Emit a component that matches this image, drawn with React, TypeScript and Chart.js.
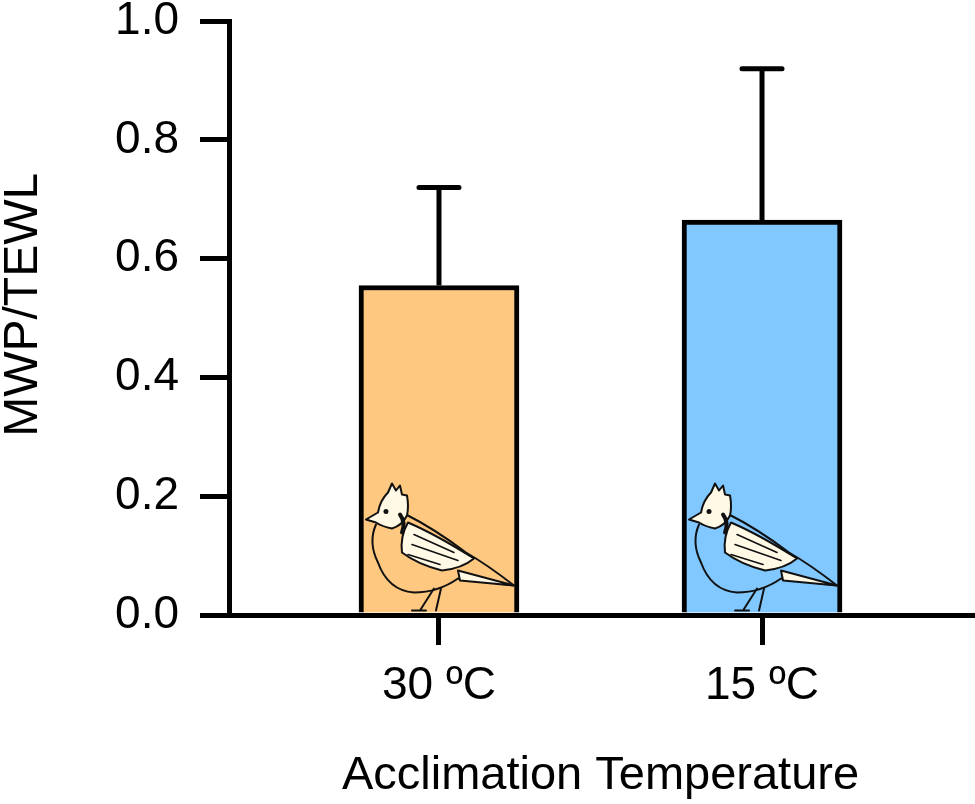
import { Chart, registerables } from "chart.js"
import { useEffect, useRef } from "react"

Chart.register(...registerables)

const categories = ["30 ºC", "15 ºC"]
const positions = [1, 2]
const means = [0.555, 0.665]
const upperErrors = [0.72, 0.92]
const barColors = ["#FFC881", "#80C8FF"]
const yTicks = [0, 0.2, 0.4, 0.6, 0.8, 1.0]

const FONT = "'Liberation Sans', Arial, sans-serif"

// rough bird sketch, drawn in every bar (offsets from bar's bottom-left corner)
const drawBird = (ctx: any, left: number, bottom: number) => {
    ctx.save()
    ctx.translate(left, bottom)
    ctx.lineJoin = "round"
    ctx.lineCap = "round"
    ctx.strokeStyle = "#111"
    ctx.fillStyle = "#FFF9E6"
    ctx.lineWidth = 2

    // body outline
    ctx.beginPath()
    ctx.moveTo(14, -88)
    ctx.quadraticCurveTo(6, -70, 16, -50)
    ctx.quadraticCurveTo(26, -22, 52, -20)
    ctx.quadraticCurveTo(76, -20, 96, -34)
    ctx.lineTo(152, -27)
    ctx.quadraticCurveTo(125, -48, 104, -60)
    ctx.quadraticCurveTo(72, -84, 44, -98)
    ctx.stroke()

    // tail
    ctx.beginPath()
    ctx.moveTo(96, -42)
    ctx.lineTo(152, -27)
    ctx.lineTo(98, -32)
    ctx.closePath()
    ctx.fill()
    ctx.stroke()

    // wing
    ctx.beginPath()
    ctx.moveTo(46, -90)
    ctx.quadraticCurveTo(74, -78, 112, -54)
    ctx.quadraticCurveTo(100, -44, 80, -42)
    ctx.quadraticCurveTo(56, -48, 40, -60)
    ctx.quadraticCurveTo(38, -76, 46, -90)
    ctx.closePath()
    ctx.fill()
    ctx.stroke()
    ctx.lineWidth = 1.6
    ctx.beginPath()
    ctx.moveTo(52, -78); ctx.lineTo(92, -60)
    ctx.moveTo(50, -68); ctx.lineTo(96, -52)
    ctx.moveTo(46, -58); ctx.lineTo(78, -48)
    ctx.stroke()

    // head with crest
    ctx.lineWidth = 2
    ctx.beginPath()
    ctx.moveTo(4, -93)
    ctx.lineTo(16, -100)
    ctx.quadraticCurveTo(18, -112, 26, -120)
    ctx.lineTo(30, -129)
    ctx.lineTo(34, -122)
    ctx.lineTo(38, -127)
    ctx.lineTo(40, -118)
    ctx.lineTo(45, -117)
    ctx.quadraticCurveTo(47, -106, 45, -97)
    ctx.quadraticCurveTo(40, -87, 30, -84)
    ctx.quadraticCurveTo(20, -86, 14, -90)
    ctx.closePath()
    ctx.fill()
    ctx.stroke()

    // eye and dark throat band
    ctx.fillStyle = "#111"
    ctx.beginPath()
    ctx.arc(24, -101, 2.5, 0, Math.PI * 2)
    ctx.fill()
    ctx.lineWidth = 4
    ctx.beginPath()
    ctx.moveTo(38, -98)
    ctx.quadraticCurveTo(44, -90, 40, -80)
    ctx.stroke()

    // legs
    ctx.lineWidth = 2
    ctx.beginPath()
    ctx.moveTo(72, -24); ctx.lineTo(58, -2)
    ctx.moveTo(79, -24); ctx.lineTo(74, -2)
    ctx.moveTo(50, -2); ctx.lineTo(64, -2)
    ctx.stroke()
    ctx.restore()
}

const barDecor = {
    id: "barDecor",
    afterDatasetsDraw(chart: any) {
        const ctx = chart.ctx
        const xs = chart.scales.x
        const ys = chart.scales.y
        const bars = chart.getDatasetMeta(0).data
        bars.forEach((bar: any) => {
            drawBird(ctx, bar.x - bar.width / 2 + 3, bar.base)
        })
        ctx.save()
        ctx.strokeStyle = "#000"
        ctx.lineWidth = 5
        positions.forEach((p, i) => {
            const x = xs.getPixelForValue(p)
            const yTop = ys.getPixelForValue(means[i])
            const yErr = ys.getPixelForValue(upperErrors[i])
            ctx.lineCap = "butt"
            ctx.beginPath()
            ctx.moveTo(x, yTop)
            ctx.lineTo(x, yErr)
            ctx.stroke()
            ctx.lineCap = "round"
            ctx.beginPath()
            ctx.moveTo(x - 20, yErr)
            ctx.lineTo(x + 20, yErr)
            ctx.stroke()
        })
        ctx.restore()
    }
}

const App = () => {
    const chartRef = useRef(null)

    useEffect(() => {
        document.body.style.margin = "0"
        if (!chartRef.current) return
        Chart.defaults.font.family = FONT

        const myChart = new Chart(chartRef.current, {
            type: "bar",
            data: {
                datasets: [
                    {
                        data: positions.map((p, i) => ({ x: p, y: means[i] })),
                        backgroundColor: barColors,
                        borderColor: "#000",
                        borderWidth: 5,
                        barThickness: 160
                    }
                ]
            },
            options: {
                animation: false,
                responsive: true,
                maintainAspectRatio: false,
                layout: { padding: { top: 0, right: 3, left: 0, bottom: 0 } },
                plugins: { legend: { display: false }, tooltip: { enabled: false } },
                scales: {
                    x: {
                        type: "linear",
                        min: 0.35,
                        max: 2.65,
                        offset: false,
                        afterBuildTicks: (s: any) => { s.ticks = positions.map(v => ({ value: v })) },
                        afterFit: (s: any) => { s.height = 189 },
                        ticks: {
                            callback: (v: any) => categories[positions.indexOf(v)],
                            color: "#000",
                            font: { size: 46, family: FONT },
                            padding: 14,
                            maxRotation: 0
                        },
                        grid: { offset: false, drawOnChartArea: false, tickLength: 30, lineWidth: 5, color: "#000" },
                        border: { display: true, width: 5, color: "#000" },
                        title: {
                            display: true,
                            text: "Acclimation Temperature",
                            color: "#000",
                            font: { size: 47, family: FONT, lineHeight: 1 },
                            padding: { top: 0, bottom: 4 }
                        }
                    },
                    y: {
                        min: 0,
                        max: 1,
                        afterBuildTicks: (s: any) => { s.ticks = yTicks.map(v => ({ value: v })) },
                        afterFit: (s: any) => { s.width = 229 },
                        ticks: {
                            callback: (v: any) => Number(v).toFixed(1),
                            color: "#000",
                            font: { size: 46, family: FONT, lineHeight: 0.01 },
                            padding: 21
                        },
                        grid: { drawOnChartArea: false, tickLength: 29, lineWidth: 5, color: "#000" },
                        border: { display: true, width: 5, color: "#000" },
                        title: {
                            display: true,
                            text: "  MWP/TEWL",
                            color: "#000",
                            font: { size: 48, family: FONT, lineHeight: 1 },
                            padding: 0
                        }
                    }
                }
            },
            plugins: [barDecor]
        })
        return () => {
            myChart.destroy()
        }
    }, [])

    return (
        <div style={{ width: 975, height: 804, position: "relative", background: "#fff" }}>
            <canvas ref={chartRef}></canvas>
        </div>
    )
}

export default App
